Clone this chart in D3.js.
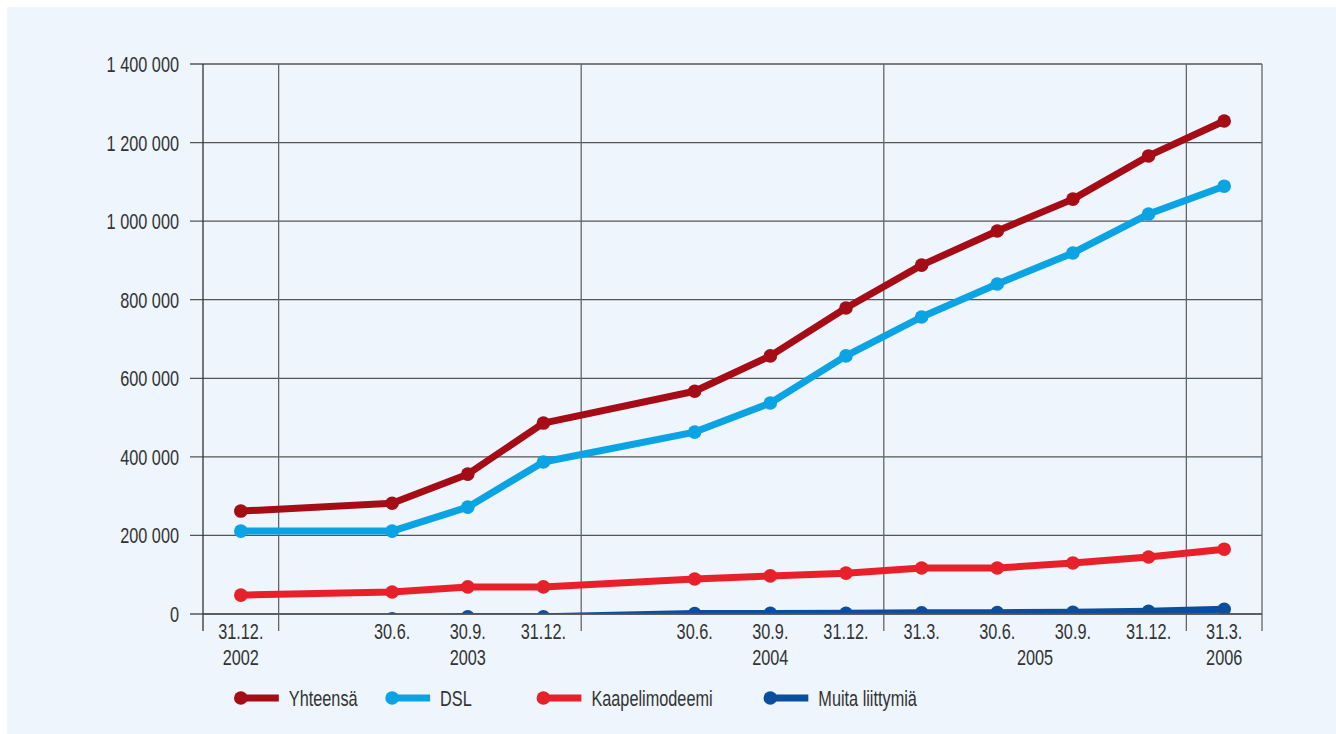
<!DOCTYPE html>
<html><head><meta charset="utf-8">
<script src="https://cdn.jsdelivr.net/npm/d3@7"></script>
<style>
html,body{margin:0;padding:0;background:#fff;}
text{font-family:"Liberation Sans",Arial,sans-serif;fill:#333;}
</style></head>
<body>
<svg id="c" width="1336" height="734"></svg>
<script>
// quarter index: 0 = 31.12.2002
const quarters = [0, 2, 3, 4, 6, 7, 8, 9, 10, 11, 12, 13];
const dateLabels = ["31.12.", "30.6.", "30.9.", "31.12.", "30.6.", "30.9.", "31.12.", "31.3.", "30.6.", "30.9.", "31.12.", "31.3."];
const years = ["2002", "2003", "2004", "2005", "2006"];
const yearCenters = [0, 3, 7, 10.5, 13];
const yearBounds = [0.5, 4.5, 8.5, 12.5];
const yTicks = [0, 200000, 400000, 600000, 800000, 1000000, 1200000, 1400000];

const yhteensa = [262000, 282000, 356000, 486000, 567000, 657000, 779000, 888000, 975000, 1056000, 1166000, 1255000];
const dsl = [211000, 211000, 272000, 387000, 463000, 537000, 657000, 756000, 840000, 919000, 1018000, 1089000];
const kaapeli = [48000, 56000, 69000, 69000, 89000, 97000, 104000, 117000, 117000, 130000, 145000, 165000];
const muita = [null, -12000, -7000, -7000, 1000, 1500, 2000, 3000, 3500, 4500, 7000, 12000];

const seriesNames = ["Yhteensä", "DSL", "Kaapelimodeemi", "Muita liittymiä"];
const seriesData = [yhteensa, dsl, kaapeli, muita];
const colors = ["#a50c16", "#0aa3e3", "#e8202a", "#0c4e9e"];
const legendQuarter = [0, 2, 4, 7];

const svg = d3.select("#c");
svg.append("rect").attr("x", 7).attr("y", 7).attr("width", 1329).attr("height", 727).attr("fill", "#eef5fc");

const L = 203, R = 1262, T = 64, B = 614;
const x = d3.scaleLinear().domain([-0.5, 13.5]).range([L, R]);
const y = d3.scaleLinear().domain([0, 1400000]).range([B, T]);

const fmt = v => d3.format(",")(v).replace(/,/g, " ");
const SX = 0.74, FS = 22;
function label(sel, tx, ty, anchor, txt) {
  sel.append("text").attr("transform", `translate(${tx},${ty}) scale(${SX},1)`)
    .attr("text-anchor", anchor).attr("font-size", FS).text(txt);
}

const g = svg.append("g");
g.selectAll(".hg").data(yTicks).join("line")
  .attr("x1", 190).attr("x2", R).attr("y1", d => y(d)).attr("y2", d => y(d))
  .attr("stroke", "#555").attr("stroke-width", 1.3);
yTicks.forEach(v => label(g, 179, y(v) + 8, "end", fmt(v)));

const vx = [-0.5].concat(yearBounds).concat([13.5]);
g.selectAll(".vg").data(vx).join("line")
  .attr("x1", d => x(d)).attr("x2", d => x(d)).attr("y1", T).attr("y2", 631)
  .attr("stroke", (d, i) => (i === 0 ? "#333" : "#666")).attr("stroke-width", 1.3);

quarters.forEach((q, i) => label(g, x(q), 639, "middle", dateLabels[i]));
years.forEach((yr, i) => label(g, x(yearCenters[i]), 665, "middle", yr));

svg.append("clipPath").attr("id", "clip").append("rect").attr("x", L).attr("y", T - 10).attr("width", R - L + 10).attr("height", B - T + 10);

const plot = svg.append("g").attr("clip-path", "url(#clip)");
const line = d3.line().defined(d => d.v !== null).x(d => x(d.q)).y(d => y(d.v));

for (let s = seriesData.length - 1; s >= 0; s--) {
  const pts = quarters.map((q, i) => ({ q, v: seriesData[s][i] }));
  const gs = plot.append("g");
  gs.append("path").datum(pts).attr("d", line).attr("fill", "none")
    .attr("stroke", colors[s]).attr("stroke-width", 7).attr("stroke-linejoin", "round");
  gs.selectAll("circle").data(pts.filter(d => d.v !== null)).join("circle")
    .attr("cx", d => x(d.q)).attr("cy", d => y(d.v)).attr("r", 6.8).attr("fill", colors[s]);
}
svg.append("line").attr("x1", L).attr("x2", R).attr("y1", B).attr("y2", B).attr("stroke", "#555").attr("stroke-width", 1.3);

const lg = svg.append("g");
seriesNames.forEach((n, i) => {
  const cx = x(legendQuarter[i]);
  lg.append("line").attr("x1", cx).attr("x2", cx + 38).attr("y1", 698).attr("y2", 698)
    .attr("stroke", colors[i]).attr("stroke-width", 7);
  lg.append("circle").attr("cx", cx).attr("cy", 698).attr("r", 6.8).attr("fill", colors[i]);
  label(lg, cx + 48, 706, "start", n);
});
</script>
</body></html>
